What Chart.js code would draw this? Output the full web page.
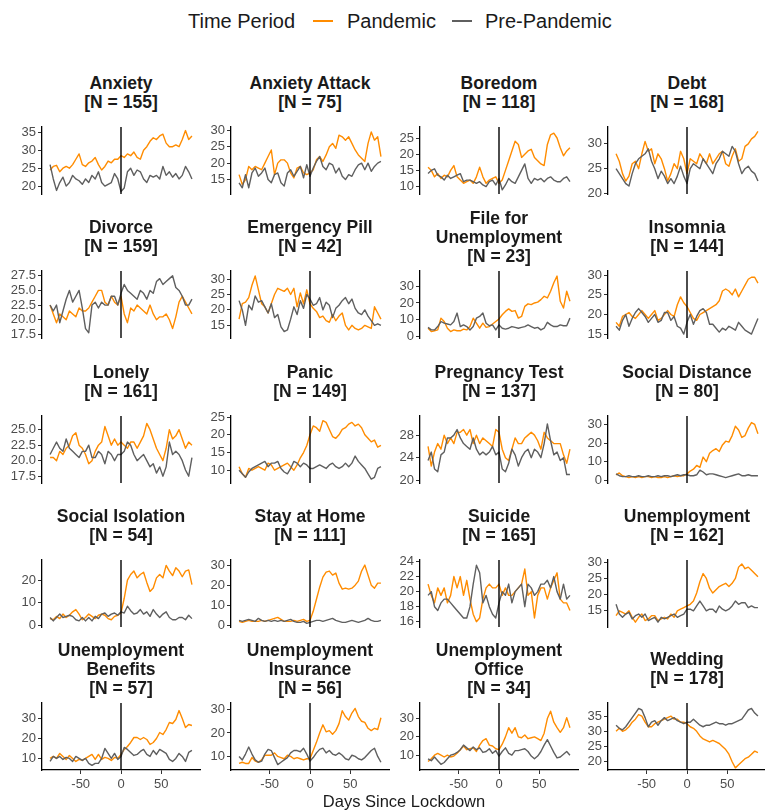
<!DOCTYPE html>
<html>
<head>
<meta charset="utf-8">
<script src="https://cdn.jsdelivr.net/npm/chart.js@4.4.1/dist/chart.umd.min.js"></script>
<style>
  html, body { margin: 0; padding: 0; background: #ffffff; }
  #figure { position: relative; width: 765px; height: 811px; overflow: hidden;
            font-family: 'Liberation Sans', Arial, Helvetica, sans-serif; background: #ffffff; }
  #figure canvas { position: absolute; }
  .strip { position: absolute; display: flex; flex-direction: column; align-items: center; justify-content: center;
           text-align: center; font-weight: bold; font-size: 17.5px; line-height: 19px; color: #1a1a1a; white-space: nowrap; }
  .legend-text { position: absolute; font-size: 20px; line-height: 24px; color: #1a1a1a; white-space: nowrap; }
  .legend-key { position: absolute; height: 2px; }
  .axis-title { position: absolute; text-align: center; font-size: 16.5px; line-height: 20px; color: #1a1a1a; }
</style>
</head>
<body>
<div id="figure"></div>
<script>
// Days relative to the lockdown date (sampled every 4 days)
const days = [-88, -84, -80, -76, -72, -68, -64, -60, -56, -52, -48, -44, -40, -36, -32, -28, -24, -20, -16, -12, -8, -4,
              0, 4, 8, 12, 16, 20, 24, 28, 32, 36, 40, 44, 48, 52, 56, 60, 64, 68, 72, 76, 80, 84, 88];
const lockdownDay = 0;
const xTickValues = [-50, 0, 50];

const categories = ['Anxiety', 'Anxiety Attack', 'Boredom', 'Debt',
                    'Divorce', 'Emergency Pill', 'File for Unemployment', 'Insomnia',
                    'Lonely', 'Panic', 'Pregnancy Test', 'Social Distance',
                    'Social Isolation', 'Stay at Home', 'Suicide', 'Unemployment',
                    'Unemployment Benefits', 'Unemployment Insurance', 'Unemployment Office', 'Wedding'];
const sampleSizes = [155, 75, 118, 168, 159, 42, 23, 144, 161, 149, 137, 80, 54, 111, 165, 162, 57, 56, 34, 178];
const seriesNames = ['Pandemic', 'Pre-Pandemic'];
const legendTitle = 'Time Period';
const xAxisTitle = 'Days Since Lockdown';

// Search interest series: pandemic year vs. the same window one year earlier
const anxietyPandemic = [24.5,25.5,25.8,24,25,25.5,25,26,27.5,29,26,25.5,26.5,27,28,26,24.5,25.5,27,26.5,27.5,27.5,28.5,28,29,28.5,29.5,28,27.5,30,31,32.5,33.5,33,34,34.5,32,31,31,31.5,31,33,35.5,33,34];
const anxietyPrePandemic = [26,22,18.8,21,22.5,20,21,23,22,21.5,20.5,22,21,23,22,24,21,20,20.5,21,23.5,22,18.5,19.5,24,25,23,24.5,24,22,21,23,22.5,23,22,25.5,23,24,22.5,23.5,22,23,25.5,24,22];
const anxietyAttackPandemic = [16.5,13.5,15,19,18,19,18.5,18,20,22,24,16.5,20,21,21,20,17,15.5,18.5,19,17,16.5,17,18,21,22,20.5,22.5,25,26,24.5,28.5,28,27,28,26,24,22.5,21.5,20.5,26,29.5,27,28,22];
const anxietyAttackPrePandemic = [14,12.5,16.5,12.5,17,18.5,16,17,18.5,15,14,16.5,17,14,13,17,18,16,17.5,19,15.5,19.5,16,18.5,20.5,22,19,18,20,19.5,17,18.5,16,15,16.5,16,18,19.5,20,18,20,17.5,19,20,20.5];
const boredomPandemic = [16,15,13,14,12.5,13.5,13,15,16.5,13,12,11,11.5,12,11,13,16,13,11,12,12.5,13,11,12,15,18,21,24,23,19,20,21,21.5,19,18,17,16.5,23,26,26.5,25,22,19.5,21,22];
const boredomPrePandemic = [14,15,15.5,13.5,13,12,13.5,12.5,13,13.5,14,11.5,12,12,11.5,11,11.5,10.5,10,11.5,12,10.5,12.5,9,10.5,12.5,11.5,11,13,15,17,12.5,11,12.5,12,12.5,11.5,12.5,13,12,11.5,11.5,12.5,13,11.5];
const debtPandemic = [28,26.5,24,22.5,23.5,26,26.5,25,28,30.5,28.5,29,26,28,27,25,22.5,24,26,25,28.5,27,24,27,26.5,26,28,27,26,28,26,27,28,28.5,26,25.5,27.5,29,26.5,27,29.5,30,31,31.5,32.5];
const debtPrePandemic = [25,24,23,22,21.5,24,26,27,27.5,28,29,26.5,25,23,24.5,23.5,22,23,22,23.5,25.5,23.5,22,25,26,25.5,25,27,26,25,24,26,27,28.5,28,27.5,29.5,28.5,26,24,25,25.5,24.5,24,22.5];
const divorcePandemic = [22.5,21,19.5,21,20.5,20,21.5,21,20.5,22,21.5,21.5,22,23,24,25,25,23,22.5,24,23,22.5,24,21,19.5,22,21.5,22.5,22,21.5,21,22.5,21,20,20.5,20.5,21,20,18.5,20.5,23,24,23,22,21];
const divorcePrePandemic = [22.5,21.5,22.5,19.5,21.5,23.5,25,23,24,25,22,18.5,17.8,22.5,23,22,23,22.5,22.5,24,24,22.5,24.5,26,25,24.5,24,23.5,25,24.5,23.5,25,24.5,26.5,27,26,26.5,27,27.5,25.5,25,24,22.5,22.5,23.5];
const emergencyPillPandemic = [17,22,22.5,24,28,31,26.5,22,21,19,22,25,27,26.5,26,27,25,27,21,25.5,22,26.5,22,20.5,19.5,17.5,18,16.5,16,18.5,16.5,18,19,15,13.5,15,14,13.5,14,15,14.5,14,21,19,17];
const emergencyPillPrePandemic = [23,20,15,21.5,20,24.5,22.5,23,21,19,22,17.5,18.5,14.5,13,13.5,17,21,18.5,23,20.5,25,23.5,21.5,22,24,20,22.5,21.5,17.5,20.5,21.5,23,24,22,23.5,20.5,19,18.5,20,18,16.5,15,15.5,15];
const fileForUnemploymentPandemic = [5,3,3.5,4,11,9,5,3,4,3.5,3.5,4.5,4,6,11,8,5,8,5.5,6,7.5,9,10.5,13,15,16.5,15,15.5,11,12,18,19.5,19,20,20.5,22,24,23,27,32,36,21,17,27,21];
const fileForUnemploymentPrePandemic = [5.5,4,4,6,9,8,7.5,7,9,14,6,7,6,4,6,11,12,14,8,6.5,7,4,7,5,4.5,5,6,5.5,5,5.5,6,7,6,5,5.5,4,5,8.5,7,6,6,7,6.5,6.5,11];
const insomniaPandemic = [18,17,19.5,20,20.5,19.5,19,20,21,20,19,20,21,18.5,19,20,21,20,19.5,22.5,24.5,23,22,20.5,19,18.5,20,20.5,21,21.5,22,22.5,23.5,26,26.5,26,25,26.5,24.5,26,27.5,29,29.5,29.5,28];
const insomniaPrePandemic = [17,16,18.5,20,17,19,20.5,21.5,20.5,19.5,18,19,20,18,18.5,20.5,20.5,18.5,19.5,17,16.5,15,18,20,17.5,19.5,21,21.5,20.5,17.5,17.5,16.5,15.5,16.5,16,17,16.5,16,18,17,16,15.5,15,17,19];
const lonelyPandemic = [20.5,20.5,20,21.5,21,22,22.5,24,24.5,22.5,22,21,19.5,20,21.5,22.5,23,25.5,24,22.5,23.5,22.5,23,22.5,22,23,23,22,23,24,26,25,23.5,22,21,20,22,25,23.5,24,25,23.5,22,23,22.5];
const lonelyPrePandemic = [21,22,23,22,21.5,23.5,22,21.5,21,20.5,21.5,21.5,22.5,20.5,20.5,21.5,21,19.5,21.5,21,20,21,21,21.5,23,22.5,21,20,20.5,21,20,19,19.5,18,19,17.5,19,23,21,21.5,21,20,18.5,17.5,20.5];
const panicPandemic = [11,9,8,10.5,10,10.5,11,10.5,10,12,11.5,10,10.5,11,11.5,12,11,10,11.5,13.5,15,17,20,22.5,22,21,24,23.5,21.5,19.5,19,20,21.5,22,23,23.5,22.5,23,22,20,19,18,18.5,16.5,17];
const panicPrePandemic = [10,9,8,9.5,10.5,11,11.5,12,12.5,11,12,12,12.5,10.5,9.5,9,10.5,12.5,12,11,12,11.5,10.5,10.5,11,11.5,11,10.5,11.5,12,11,10.5,11,12,11,12,14,12.5,11.5,10.5,9,7.5,8,10.5,11];
const pregnancyTestPandemic = [26,22.5,25,26.5,25.5,28,26.5,27.5,26.5,28.5,28.5,29,28,29,26.5,28,26.5,27.5,27,26.5,26,29,28.5,25.5,24,23.5,25.5,27.5,26.5,26.5,27.5,28,28.5,28,27,25.5,28.5,27.5,27,26.5,26.5,26.5,24.5,23,25.5];
const pregnancyTestPrePandemic = [23.5,25,22,21.5,24.5,25,27.5,27.5,28,29,27.5,26.5,26,25.5,27.5,25.5,24.5,25,24.5,25,26,24.5,25,22,21.5,23,25.5,24.5,22.5,24,25,25.5,24,25.5,25,24,26.5,30,27,24.5,25,23.5,24,21,21];
const socialDistancePandemic = [3,4,2.5,2,1.5,2,1.5,2,1.5,2,2,1.5,2,1.5,1.5,2,1.5,2,2.5,2,2.5,2.5,3.5,5,6,8,7,12.5,10,14.5,16,17,15.5,19,21,20.5,24,29,27,23,24,28,31,30,25];
const socialDistancePrePandemic = [3.5,2.5,2,2,2.5,2,2,2.5,2,2,2.5,2,2,2.5,2,2.5,2.5,2,2.5,3,2.5,3,3,2.5,2.5,3,5.5,4.5,3,3.5,3.5,3,2.5,2,1.5,2,2.5,3,3.5,2.5,2.5,3,2.5,2.5,2.5];
const socialIsolationPandemic = [3,2.5,4,3,5,3.5,4.5,6,7,5,2.5,3.5,5,4,3,4.5,5,4.5,3,2.5,4,4.5,5.5,12,20,22.5,24,21,22.5,23.5,19,15,16.5,21,22.5,21,26.5,24,22,25.5,24,21.5,24,24.5,18];
const socialIsolationPrePandemic = [3.5,2,3.5,5,3.5,4,4.5,4,2.5,2,3.5,2,3.5,2,4,3,5,5.5,4,5,5.5,4.5,6,5.5,8.5,6.5,5,5.5,7,5,6,4,7,5,3.5,5,6,3.5,2.5,2.5,3.5,3.5,2.5,4.5,3];
const stayAtHomePandemic = [2,1.5,2,2.5,2,2,2,2.5,2,2.5,3,3.5,4,3,2,2,2,2.5,2,2.5,3,2,2.5,7,13,19,24,26.5,27,25,26,21,18,18.5,18,18.5,20,22,27,30,25,20,18.5,21,21];
const stayAtHomePrePandemic = [2.5,2,2.5,3,2.5,2,3.5,2.5,2,2.5,2,2.5,2,2.5,2,2.5,3,2,1.5,1.5,2,1,1.5,2,2.5,2.5,2,2.5,3,3.5,2.5,2,1.5,1.5,2,2.5,2,1.5,2,2.5,3.5,2.5,2,2,2.5];
const suicidePandemic = [21,19.5,18.5,20.5,19.5,20.5,18.5,19.5,22,20.5,22,19.5,21.5,19,17,16,16.5,19,20.5,21,20.5,20.5,21,19.5,20.5,19.5,19.5,20,20.5,21,23,19.5,20,16.5,19.5,20.5,20.5,19,20.5,21.5,22.5,19,18.5,18.5,17.5];
const suicidePrePandemic = [19.5,20,18,17.5,18.5,19,19,18.5,18,17.5,17,16.5,16.5,18,21,23.5,22.5,18.5,19.5,18,17,16.5,18.5,20,19.5,21,18.5,20,20.5,21,18,21,20.5,19.5,20,21,21,21.5,20.5,22,20,19,21,19,19.5];
const unemploymentPandemic = [13.5,15,14.5,14,15,13,11.5,13,14,12,12.5,13.5,13.5,12,12.5,13,12.5,14,13,15,15.5,16,16.5,17,18,20.5,24,26.5,25,22,20.5,21.5,22.5,23,23.5,22.5,23.5,25,28.5,29.5,28,28.5,27.5,26.5,25.5];
const unemploymentPrePandemic = [17,14,13,14,14.5,12.5,13.5,14,13,14,12,12.5,13,11.5,13,12.5,13,13.5,14,13,13.5,14,15.5,15.5,15,16.5,18,16.5,15,15.5,15.5,14.5,16.5,15.5,15,15.5,16.5,18,17,17.5,17.5,16,16.5,16,16];
const unemploymentBenefitsPandemic = [10,11,10,12.5,11,9.5,11.5,10,8.5,9.5,9,10,11,12,9.5,12,9.5,10.5,10,9,10.5,10,12,14.5,16,18,20.5,20.5,19.5,20.5,19.5,17,18,20,23,22,24.5,28,27.5,29.5,34,30,25.5,27,26.5];
const unemploymentBenefitsPrePandemic = [8.5,11,10,11,9.5,10.5,10,8.5,11,10,9,10,7.5,6.5,7.5,7.5,10,15,12.5,10,12.5,9.5,11,15.5,14.5,13,11.5,12,13.5,14.5,12,11,14,12,14.5,13.5,12.5,9.5,8.5,10,12.5,11,8.5,13,14];
const unemploymentInsurancePandemic = [7,7.5,7,7,9.5,8,7.5,8.5,10.5,10.5,10.5,11.5,10,9.5,9,10.5,10,9,9.5,9,8.5,9,9,12.5,16,20,23.5,20.5,21,19.5,21,24,29.5,27,25.5,28.5,30.5,27,25,24.5,22,21,22,21.5,26.5];
const unemploymentInsurancePrePandemic = [10,8.5,11,14,11,8.5,7.5,8,11,13,12.5,9.5,6.5,7.5,8.5,9.5,11.5,12.5,12.5,12,13.5,11,8,9.5,11.5,13,13.5,11.5,12.5,11,10.5,11.5,10.5,9,8.5,10.5,10,9,8.5,9.5,11,12.5,13.5,10,7.5];
const unemploymentOfficePandemic = [6.5,8,10,11,10,9,10,9,9.5,11,13,15,13,13.5,14,12,15.5,18,19,15.5,15,13.5,13,16,20,25,22,25,20,19.5,21,19,19.5,20,19,18,22,30,34,28,25,22.5,25,30.5,25];
const unemploymentOfficePrePandemic = [8,7,9,7,5,6,8,10,10.5,11.5,13,15.5,14,12.5,14.5,13,14,11.5,12,13.5,11,12.5,9.5,12,14,11,10,12.5,12.5,13,13.5,12,9.5,8,9.5,12,15.5,18.5,15,11.5,8.5,9,10.5,12,10];
const weddingPandemic = [30,31,30,30.5,31.5,33,34,35.5,35,33,31.5,31.5,32.5,33,33.5,34,34.5,35,34,34,33,33,32.5,31.5,31,30,28.5,27.5,27,26.5,27,26.5,26,25,24,22.5,20,18,19,20,21,21.5,22.5,23.5,23];
const weddingPrePandemic = [32,31,30.5,31.5,33,34.5,36,37.5,37,34.5,31.5,33,33.5,32,33.5,34.5,33.5,34,34.5,33.5,33,32.5,33,33,34,33,32,31.5,32,32,32.5,33,32.5,32.5,32,32.5,32.5,33,33.5,34,35.5,37,37.5,36,35];

const pandemicSeries = [anxietyPandemic, anxietyAttackPandemic, boredomPandemic, debtPandemic,
  divorcePandemic, emergencyPillPandemic, fileForUnemploymentPandemic, insomniaPandemic,
  lonelyPandemic, panicPandemic, pregnancyTestPandemic, socialDistancePandemic,
  socialIsolationPandemic, stayAtHomePandemic, suicidePandemic, unemploymentPandemic,
  unemploymentBenefitsPandemic, unemploymentInsurancePandemic, unemploymentOfficePandemic, weddingPandemic];
const prePandemicSeries = [anxietyPrePandemic, anxietyAttackPrePandemic, boredomPrePandemic, debtPrePandemic,
  divorcePrePandemic, emergencyPillPrePandemic, fileForUnemploymentPrePandemic, insomniaPrePandemic,
  lonelyPrePandemic, panicPrePandemic, pregnancyTestPrePandemic, socialDistancePrePandemic,
  socialIsolationPrePandemic, stayAtHomePrePandemic, suicidePrePandemic, unemploymentPrePandemic,
  unemploymentBenefitsPrePandemic, unemploymentInsurancePrePandemic, unemploymentOfficePrePandemic, weddingPrePandemic];

// Free y-axis tick labels per panel
const yTickLabels = [
  ['20', '25', '30', '35'], ['15', '20', '25', '30'], ['10', '15', '20', '25'], ['20', '25', '30'],
  ['17.5', '20.0', '22.5', '25.0', '27.5'], ['15', '20', '25', '30'], ['0', '10', '20', '30'], ['15', '20', '25', '30'],
  ['17.5', '20.0', '22.5', '25.0'], ['10', '15', '20', '25'], ['20', '24', '28'], ['0', '10', '20', '30'],
  ['0', '10', '20'], ['0', '10', '20', '30'], ['16', '18', '20', '22', '24'], ['15', '20', '25', '30'],
  ['10', '20', '30'], ['10', '20', '30'], ['10', '20', '30'], ['20', '25', '30', '35']
];
// y-axis limits per panel (data range plus a small margin)
const yLimits = [
  [17.8, 36.5], [10.6, 31.0], [7.7, 28.4], [19.9, 33.4],
  [16.9, 28.3], [10.9, 32.6], [-0.8, 39.0], [14.0, 31.1],
  [16.4, 27.2], [6.4, 25.3], [19.5, 31.4], [-1.4, 34.5],
  [-0.7, 28.9], [-0.8, 32.5], [15.3, 24.2], [10.0, 30.7],
  [4.2, 37.8], [4.2, 32.8], [1.9, 38.5], [17.3, 39.3]
];
const xLimits = [-98, 98];

// ---- layout & style ----
const COLORS = { pandemic: '#ff8c00', prePandemic: '#5f5f5f' };
const COL_LEFT = [42, 231, 420, 608];
const ROW_TOP = [127, 271, 416, 560, 703];
const PLOT_W = 158, PLOT_H = 67, Y_AXIS_W = 48, PAD_RIGHT = 4, X_AXIS_H = 22;
const FONT = "'Liberation Sans', Arial, Helvetica, sans-serif";
const TICK_TEXT = '#4d4d4d';

Chart.defaults.font.family = FONT;

const figure = document.getElementById('figure');

function wrapLabel(text, width) {
  const words = text.split(' ');
  const lines = [];
  let line = '';
  for (const w of words) {
    const candidate = line ? line + ' ' + w : w;
    if (candidate.length > width && line) { lines.push(line); line = w; }
    else line = candidate;
  }
  if (line) lines.push(line);
  return lines;
}

// Legend across the top
function addLegend() {
  const items = [
    { kind: 'text', text: legendTitle, left: 188 },
    { kind: 'key', color: COLORS.pandemic, left: 313 },
    { kind: 'text', text: seriesNames[0], left: 347 },
    { kind: 'key', color: COLORS.prePandemic, left: 452 },
    { kind: 'text', text: seriesNames[1], left: 485 }
  ];
  for (const it of items) {
    const el = document.createElement('div');
    if (it.kind === 'text') {
      el.className = 'legend-text';
      el.textContent = it.text;
      el.style.left = it.left + 'px';
      el.style.top = '9px';
    } else {
      el.className = 'legend-key';
      el.style.left = it.left + 'px';
      el.style.top = '20px';
      el.style.width = '20px';
      el.style.background = it.color;
    }
    figure.appendChild(el);
  }
}

// Vertical reference line at the lockdown date
const lockdownLine = {
  id: 'lockdownLine',
  afterDatasetsDraw(chart) {
    const { ctx, chartArea, scales } = chart;
    const x = scales.x.getPixelForValue(lockdownDay);
    ctx.save();
    ctx.strokeStyle = '#000000';
    ctx.lineWidth = 1.4;
    ctx.beginPath();
    ctx.moveTo(x, chartArea.top);
    ctx.lineTo(x, chartArea.bottom);
    ctx.stroke();
    ctx.restore();
  }
};

function addPanel(i) {
  const col = i % 4, row = Math.floor(i / 4);
  const bottomRow = row === ROW_TOP.length - 1;
  const padTop = 9;
  const padBottom = bottomRow ? 2 : 9;
  const xAxisH = bottomRow ? X_AXIS_H : 0;

  // strip title
  const strip = document.createElement('div');
  strip.className = 'strip';
  strip.style.left = (COL_LEFT[col] - 15) + 'px';
  strip.style.width = (PLOT_W + 30) + 'px';
  strip.style.top = (ROW_TOP[row] - 34 - 35) + 'px';
  strip.style.height = '70px';
  const lines = wrapLabel(categories[i], 18).concat(['[N = ' + sampleSizes[i] + ']']);
  for (const ln of lines) {
    const d = document.createElement('div');
    d.textContent = ln;
    strip.appendChild(d);
  }
  figure.appendChild(strip);

  const canvas = document.createElement('canvas');
  canvas.width = Y_AXIS_W + PLOT_W + PAD_RIGHT;
  canvas.height = padTop + PLOT_H + xAxisH + padBottom;
  canvas.style.left = (COL_LEFT[col] - Y_AXIS_W) + 'px';
  canvas.style.top = (ROW_TOP[row] - padTop) + 'px';
  figure.appendChild(canvas);

  const labels = yTickLabels[i];
  const toPoints = arr => days.map((d, k) => ({ x: d, y: arr[k] }));

  new Chart(canvas, {
    type: 'line',
    data: {
      datasets: [
        { label: seriesNames[1], data: toPoints(prePandemicSeries[i]), borderColor: COLORS.prePandemic, order: 0 },
        { label: seriesNames[0], data: toPoints(pandemicSeries[i]), borderColor: COLORS.pandemic, order: 1 }
      ]
    },
    options: {
      responsive: false,
      animation: false,
      devicePixelRatio: 1,
      layout: { autoPadding: false, padding: { top: padTop, bottom: padBottom, left: 0, right: PAD_RIGHT } },
      elements: { point: { radius: 0 }, line: { borderWidth: 1.4, tension: 0, borderJoinStyle: 'round' } },
      plugins: { legend: { display: false }, tooltip: { enabled: false } },
      scales: {
        x: {
          type: 'linear',
          min: xLimits[0], max: xLimits[1],
          display: bottomRow,
          afterBuildTicks: s => { s.ticks = xTickValues.map(v => ({ value: v })); },
          afterFit: s => { s.height = xAxisH; s.paddingLeft = 0; s.paddingRight = 0; },
          grid: { drawOnChartArea: false, drawTicks: true, tickLength: 4, color: '#333333', lineWidth: 1 },
          border: { display: true, color: '#000000', width: 1.3 },
          ticks: { font: { size: 13 }, color: TICK_TEXT, padding: 3, maxRotation: 0, autoSkip: false,
                   callback: v => String(v) }
        },
        y: {
          type: 'linear',
          min: yLimits[i][0], max: yLimits[i][1],
          afterBuildTicks: s => { s.ticks = labels.map(t => ({ value: parseFloat(t) })); },
          afterFit: s => { s.width = Y_AXIS_W; s.paddingTop = 0; s.paddingBottom = 0; },
          grid: { drawOnChartArea: false, drawTicks: true, tickLength: 4, color: '#333333', lineWidth: 1 },
          border: { display: true, color: '#000000', width: 1.3 },
          ticks: { font: { size: 13 }, color: TICK_TEXT, padding: 2, autoSkip: false,
                   callback: v => labels.find(t => parseFloat(t) === v) }
        }
      }
    },
    plugins: [lockdownLine]
  });
}

addLegend();
for (let i = 0; i < categories.length; i++) addPanel(i);

const xt = document.createElement('div');
xt.className = 'axis-title';
xt.textContent = xAxisTitle;
xt.style.left = COL_LEFT[0] + 'px';
xt.style.width = (COL_LEFT[3] + PLOT_W - COL_LEFT[0]) + 'px';
xt.style.top = '791px';
figure.appendChild(xt);
</script>
</body>
</html>
